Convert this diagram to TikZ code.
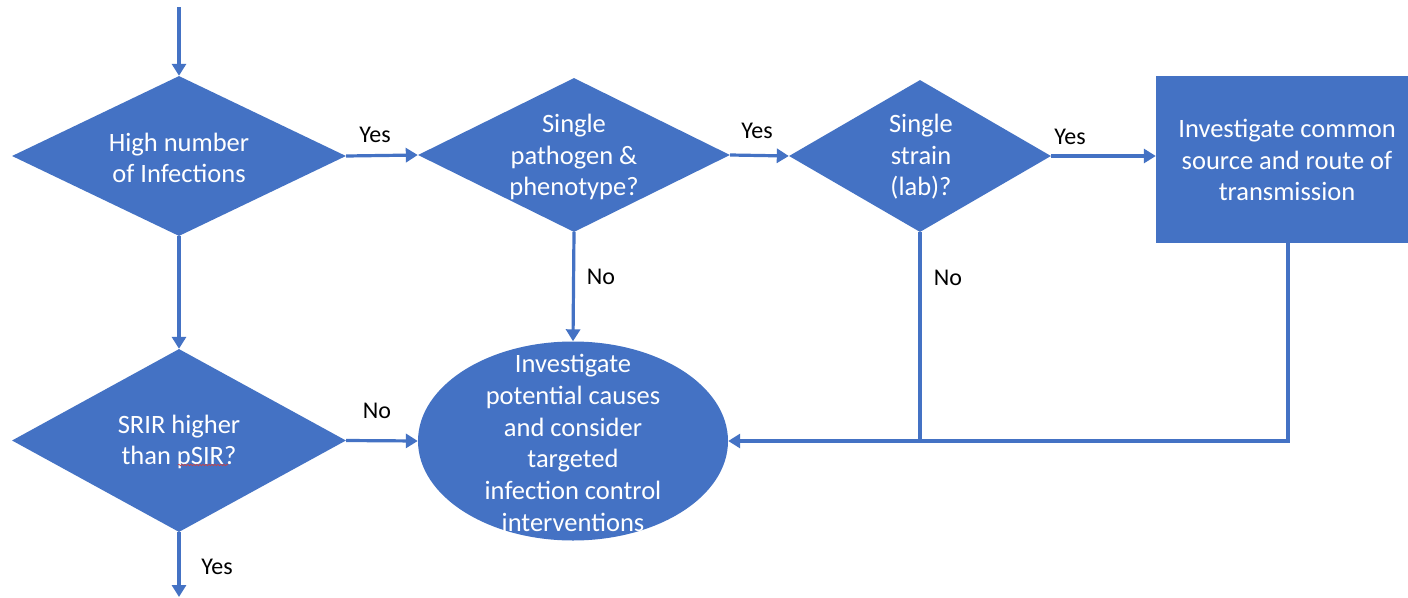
\documentclass[tikz,border=0pt]{standalone}
\usepackage{fontspec}
\setmainfont{Carlito}
\usetikzlibrary{shapes.geometric,arrows.meta,decorations.pathmorphing}
\definecolor{obl}{HTML}{4472C4}
\definecolor{spell}{HTML}{D04040}
\begin{document}
\begin{tikzpicture}[x=1pt,y=-1pt,
  shp/.style={fill=obl, draw=none, inner sep=0pt},
  dia/.style={shp, diamond},
  txt/.style={text=white, inner sep=0pt, align=center, font=\fontsize{26.5}{31.5}\selectfont},
  con/.style={draw=obl, line width=3.2pt, -{Triangle[length=12pt,width=14pt]}},
  line/.style={draw=obl, line width=3.2pt},
  lbl/.style={font=\fontsize{24}{26}\selectfont, text=black, inner sep=0pt}]
\clip (0,0) rectangle (1408,597);
\fill[white] (0,0) rectangle (1408,597);

\node[dia, minimum width=334pt, minimum height=160pt] (d1) at (179,156) {};
\node[dia, minimum width=312pt, minimum height=154pt] (d2) at (574,155) {};
\node[dia, minimum width=262pt, minimum height=152pt] (d3) at (920,156) {};
\node[shp, rectangle, minimum width=264pt, minimum height=167pt] (r) at (1288,159.5) {};
\node[dia, minimum width=334pt, minimum height=183pt] (d4) at (179,440.5) {};
\node[shp, ellipse, minimum width=310pt, minimum height=199pt] (e) at (573,441) {};

\node[txt] (t1) at (179,158) {High number\\of Infections};
\node[txt] (t2) at (574,157) {Single\\pathogen \&\\phenotype?};
\node[txt] (t3) at (921,157) {Single\\strain\\(lab)?};
\node[txt] (tr) at (1287,160) {Investigate common\\source and route of\\transmission};
\node[txt] (t4) at (179,442) {SRIR higher\\than pSIR?};
\node[txt, font=\fontsize{26.5}{31.8}\selectfont] (te) at (573,443) {Investigate\\potential causes\\and consider\\targeted\\infection control\\interventions};

\coordinate (top) at (179,7);
\coordinate (bot) at (179,597);
\coordinate (j) at (d3.south |- e.east);

\draw[con] (top) -- (d1.north);
\draw[con] (d1.east) -- (d2.west);
\draw[con] (d2.east) -- (d3.west);
\draw[con] (d3.east) -- (r.west |- d3.east);
\draw[con] (d2.south) -- (e.north);
\draw[line] (d3.south) -- (j);
\draw[con] (r.south) -- (r.south |- e.east) -- (e.east);
\draw[con] (d1.south) -- (d4.north);
\draw[con] (d4.east) -- (e.west);
\draw[con] (d4.south) -- (bot);

\node[lbl] (l1) at (375,135) {Yes};
\node[lbl] (l2) at (757,131) {Yes};
\node[lbl] (l3) at (1070,137) {Yes};
\node[lbl] (l4) at (601,277) {No};
\node[lbl] (l5) at (948,278) {No};
\node[lbl] (l6) at (377,411) {No};
\node[lbl] (l7) at (217,567) {Yes};

\draw[spell, line width=0.6pt, decorate, decoration={snake, amplitude=0.8pt, segment length=3pt}] (178,465) -- (228,465);
\end{tikzpicture}
\end{document}
